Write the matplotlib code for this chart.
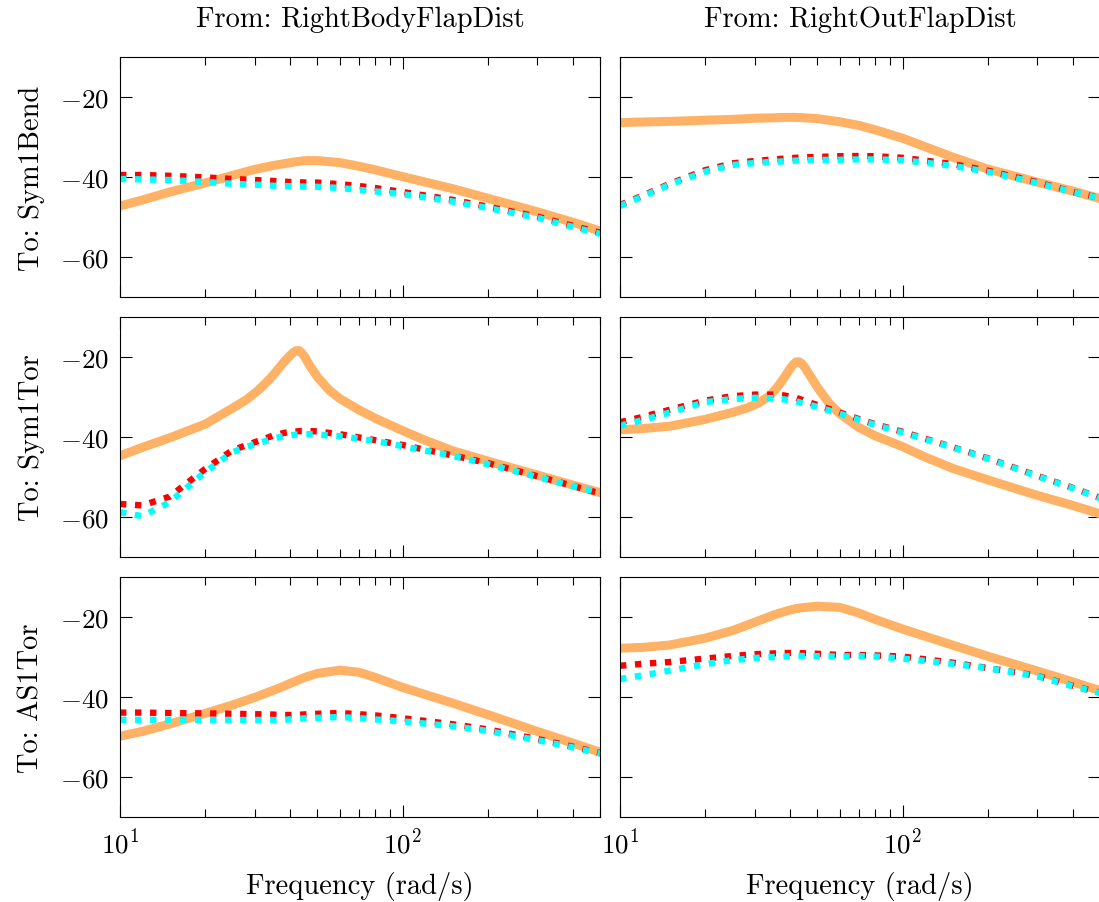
import matplotlib.pyplot as plt
from matplotlib.ticker import NullFormatter

plt.rcParams['font.family'] = 'serif'
plt.rcParams['font.serif'] = ['cmr10']
plt.rcParams['mathtext.fontset'] = 'cm'
plt.rcParams['axes.formatter.use_mathtext'] = True

freq = [10, 12, 15, 20, 25, 30, 35, 38, 40, 42, 44, 46, 50, 60, 70, 80, 100, 150, 200, 300, 400, 500]
# denser grid for the two resonant (Sym1Tor) full-model curves
freq_peak = [10, 12, 15, 20, 25, 28, 31, 34, 36, 38, 40, 41, 42, 43, 44, 45, 47, 50, 55, 60, 70, 80,
             100, 120, 150, 200, 300, 400, 500]

inputs = ['RightBodyFlapDist', 'RightOutFlapDist']
outputs = ['Sym1Bend', 'Sym1Tor', 'AS1Tor']

# To: Sym1Bend
bend_body_orange = [-47.25, -45.75, -43.75, -41.5, -39.6, -38.1, -37.1, -36.7, -36.4, -36.2, -36.0,
                    -35.9, -35.9, -36.4, -37.3, -38.2, -39.9, -42.9, -45.3, -48.7, -51.3, -53.5]
bend_body_red = [-39.5, -39.5, -39.7, -40.1, -40.5, -40.75, -41.0, -41.15, -41.25, -41.3, -41.35,
                 -41.4, -41.4, -41.8, -42.25, -42.75, -43.75, -45.7, -47.4, -49.9, -52.2, -53.9]
bend_body_cyan = [-40.5, -40.6, -40.75, -41.25, -41.7, -41.9, -42.2, -42.25, -42.3, -42.35, -42.4,
                  -42.4, -42.45, -42.75, -43.2, -43.6, -44.3, -46.1, -47.75, -50.2, -52.5, -54.2]
bend_out_orange = [-26.4, -26.25, -26.1, -25.8, -25.6, -25.3, -25.2, -25.1, -25.1, -25.1, -25.15,
                   -25.25, -25.4, -26.2, -27.1, -28.2, -30.3, -35.0, -38.0, -41.3, -43.5, -45.4]
bend_out_red = [-47.0, -44.7, -41.7, -38.3, -36.6, -36.0, -35.6, -35.4, -35.3, -35.2, -35.1,
                -35.05, -35.0, -34.8, -34.75, -34.8, -35.2, -36.75, -38.4, -41.3, -43.7, -45.25]
bend_out_cyan = [-47.25, -44.9, -41.9, -38.7, -37.0, -36.5, -36.2, -36.1, -36.0, -35.9, -35.85,
                 -35.8, -35.75, -35.7, -35.6, -35.6, -35.8, -37.2, -38.7, -41.5, -43.75, -45.3]

# To: Sym1Tor
tor_body_orange = [-44.7, -42.6, -40.2, -36.8, -32.8, -30.7, -28.2, -25.4, -23.3, -21.3, -19.6, -18.9,
                   -18.45, -18.4, -19.0, -19.9, -22.2, -25.0, -28.3, -30.4, -33.2, -35.3,
                   -38.4, -40.8, -43.4, -46.0, -49.5, -52.0, -53.9]
tor_body_red = [-56.75, -57.1, -54.9, -48.0, -43.3, -41.3, -39.6, -39.0, -38.7, -38.6, -38.5,
                -38.5, -38.6, -39.3, -40.1, -40.8, -42.0, -44.6, -46.5, -49.8, -52.2, -54.1]
tor_body_cyan = [-58.8, -59.8, -56.3, -48.8, -43.8, -41.8, -40.4, -39.8, -39.6, -39.4, -39.3,
                 -39.3, -39.4, -39.8, -40.4, -41.0, -42.3, -44.7, -46.8, -50.0, -52.3, -53.9]
tor_out_orange = [-38.2, -37.9, -37.3, -35.6, -33.85, -32.8, -31.5, -29.6, -27.6, -25.3, -22.9, -21.9,
                  -21.25, -21.2, -21.7, -22.5, -24.6, -27.6, -31.6, -34.2, -37.6, -39.7,
                  -42.4, -45.0, -47.8, -50.7, -54.6, -57.1, -59.2]
tor_out_red = [-36.3, -35.0, -33.2, -30.9, -29.8, -29.4, -29.4, -29.6, -29.9, -30.2, -30.7,
               -31.2, -32.0, -33.9, -35.5, -36.8, -38.7, -42.5, -45.3, -49.7, -52.7, -55.2]
tor_out_cyan = [-37.2, -35.8, -33.9, -31.3, -30.5, -30.2, -30.3, -30.6, -30.8, -31.1, -31.5,
                -31.8, -32.5, -34.2, -35.7, -37.0, -38.9, -42.6, -45.4, -49.8, -52.8, -55.3]

# To: AS1Tor
as_body_orange = [-49.8, -48.6, -46.75, -44.1, -42.0, -40.1, -38.3, -37.3, -36.6, -36.0, -35.4,
                  -34.9, -34.1, -33.3, -33.8, -35.1, -37.6, -41.5, -44.4, -48.6, -51.5, -53.8]
as_body_red = [-43.9, -43.9, -44.0, -44.1, -44.2, -44.3, -44.4, -44.5, -44.5, -44.5, -44.4,
               -44.3, -44.2, -44.0, -44.3, -44.6, -45.3, -46.8, -48.1, -50.5, -52.4, -54.0]
as_body_cyan = [-45.7, -45.7, -45.7, -45.75, -45.75, -45.75, -45.75, -45.7, -45.6, -45.5, -45.4,
                -45.3, -45.2, -45.0, -45.3, -45.6, -46.1, -47.3, -48.5, -50.8, -52.6, -54.1]
as_out_orange = [-27.8, -27.6, -27.0, -25.3, -23.4, -21.3, -19.5, -18.7, -18.25, -17.9, -17.7,
                 -17.55, -17.3, -17.6, -19.0, -20.6, -23.0, -27.0, -29.8, -33.5, -36.2, -38.4]
as_out_red = [-32.2, -31.7, -31.25, -30.4, -29.75, -29.3, -29.1, -29.0, -29.0, -29.0, -29.05,
              -29.1, -29.2, -29.5, -29.5, -29.6, -29.9, -31.4, -32.75, -34.7, -37.2, -38.9]
as_out_cyan = [-35.5, -34.6, -33.4, -31.8, -30.8, -30.25, -30.0, -29.9, -29.8, -29.75, -29.75,
               -29.8, -29.8, -29.9, -29.8, -29.9, -30.4, -31.7, -32.8, -34.8, -37.3, -39.0]

curves = [
    [(bend_body_orange, bend_body_red, bend_body_cyan), (bend_out_orange, bend_out_red, bend_out_cyan)],
    [(tor_body_orange, tor_body_red, tor_body_cyan), (tor_out_orange, tor_out_red, tor_out_cyan)],
    [(as_body_orange, as_body_red, as_body_cyan), (as_out_orange, as_out_red, as_out_cyan)],
]

W, H = 1099.0, 903.0
fig = plt.figure(figsize=(W / 100, H / 100), dpi=100)
lefts = [120, 620]
tops = [58, 318, 578]
ax_w, ax_h = 480, 240
fs = 20.5
dots = (0, (1, 1.35))

for i in range(3):
    for j in range(2):
        ax = fig.add_axes([lefts[j] / W, 1 - (tops[i] + ax_h) / H, ax_w / W, ax_h / H])
        o, r, c = curves[i][j]
        fo = freq_peak if len(o) == len(freq_peak) else freq
        ax.semilogx(fo, o, color='#ffb266', lw=6.5)
        ax.semilogx(freq, r, color='red', lw=4.6, ls=dots)
        ax.semilogx(freq, c, color='cyan', lw=4.6, ls=dots)
        ax.set_xlim(10, 500)
        ax.set_ylim(-70, -10)
        ax.set_yticks([-60, -40, -20])
        ax.xaxis.set_minor_formatter(NullFormatter())
        ax.tick_params(which='both', direction='in', top=True, right=True, width=0.8, labelsize=19.5)
        ax.tick_params(which='major', length=8.4, pad=8)
        ax.tick_params(which='minor', length=5.5)
        for s in ax.spines.values():
            s.set_linewidth(0.8)
        if j == 0:
            ax.set_ylabel('To: ' + outputs[i], fontsize=fs, labelpad=11)
        else:
            ax.tick_params(labelleft=False)
        if i == 0:
            ax.set_title('From: ' + inputs[j], fontsize=fs, pad=22)
        if i == 2:
            ax.set_xlabel('Frequency (rad/s)', fontsize=fs, labelpad=9)
        else:
            ax.tick_params(labelbottom=False)

fig.savefig('out.png', dpi=100)
